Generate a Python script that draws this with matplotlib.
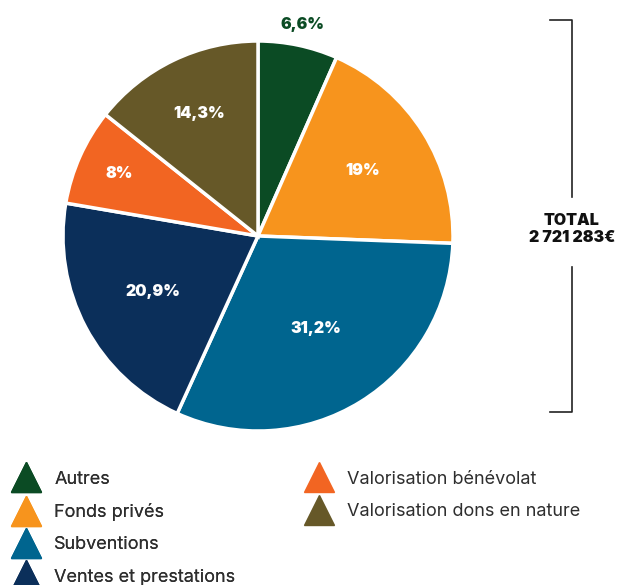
import matplotlib.pyplot as plt
import numpy as np
from matplotlib.lines import Line2D

# données
categories = ['Autres', 'Fonds privés', 'Subventions', 'Ventes et prestations',
              'Valorisation bénévolat', 'Valorisation dons en nature']
parts = [6.6, 19, 31.2, 20.9, 8, 14.3]
couleurs = ['#0b4b24', '#f7941d', '#00658f', '#0b2f5a', '#f26522', '#665828']
total_label = 'TOTAL\n2 721 283€'

# distance des étiquettes depuis le centre (rayon = 1)
rayons_label = [1.11, 0.63, 0.56, 0.61, 0.78, 0.70]

W, H = 622, 585
fig = plt.figure(figsize=(W / 100, H / 100), dpi=100)

# camembert : centre ~(258, 236) px, rayon ~195 px
cx, cy, r = 258, 236, 195
ax = fig.add_axes([(cx - r) / W, (H - cy - r) / H, 2 * r / W, 2 * r / H])
wedges, _ = ax.pie(parts, colors=couleurs, startangle=90, counterclock=False,
                   wedgeprops=dict(edgecolor='white', linewidth=2.5))
ax.set_xlim(-1, 1)
ax.set_ylim(-1, 1)
ax.set_aspect('equal')
ax.axis('off')

for i, w in enumerate(wedges):
    ang = np.deg2rad((w.theta1 + w.theta2) / 2)
    rr = rayons_label[i]
    txt = f"{parts[i]:g}".replace('.', ',') + '%'
    col = couleurs[i] if rr > 1 else 'white'
    ax.text(rr * np.cos(ang), rr * np.sin(ang), txt, ha='center', va='center',
            color=col, fontsize=11.5, fontweight='black', family='Inter')

# accolade "TOTAL" à droite (coordonnées pixels)
ov = fig.add_axes([0, 0, 1, 1], zorder=-1)
ov.set_xlim(0, W)
ov.set_ylim(H, 0)
ov.axis('off')
bx = 572
ov.plot([550, bx, bx], [20, 20, 197], color='#222222', lw=1.2)
ov.plot([550, bx, bx], [412, 412, 267], color='#222222', lw=1.2)
ov.text(bx, 229, total_label, ha='center', va='center', fontsize=11.5,
        fontweight='black', family='Inter', color='#111111', linespacing=1.15)

# légende en deux colonnes (4 + 2)
handles = [Line2D([], [], linestyle='none', marker='^', markersize=22,
                  markerfacecolor=c, markeredgecolor=c) for c in couleurs]
opts = dict(loc='upper left', frameon=False, labelcolor='#2e2e2e',
            prop=dict(family='Inter', size=13), labelspacing=0.85,
            handlelength=1.5, handletextpad=0.8, borderaxespad=0.3)
leg1 = fig.legend(handles[:4], categories[:4],
                  bbox_to_anchor=(0.0, 1 - 458 / H), **opts)
fig.add_artist(leg1)
fig.legend(handles[4:], categories[4:],
           bbox_to_anchor=(293 / W, 1 - 458 / H), **opts)

fig.savefig('out.png', dpi=100)
